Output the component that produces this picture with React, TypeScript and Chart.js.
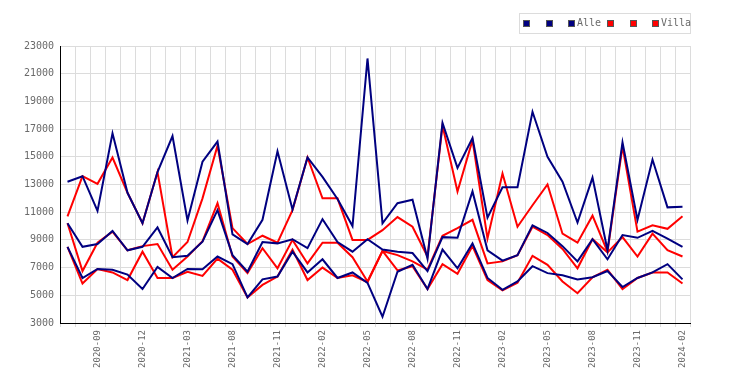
import React, { useEffect, useRef } from 'react';
import { Chart, registerables } from 'chart.js';

Chart.register(...registerables);

const months: string[] = [
  '2020-07', '2020-08', '2020-09', '2020-10', '2020-11', '2020-12',
  '2021-01', '2021-02', '2021-03', '2021-04', '2021-05', '2021-08',
  '2021-09', '2021-10', '2021-11', '2021-12', '2022-01', '2022-02',
  '2022-03', '2022-04', '2022-05', '2022-06', '2022-07', '2022-08',
  '2022-09', '2022-10', '2022-11', '2022-12', '2023-01', '2023-02',
  '2023-03', '2023-04', '2023-05', '2023-06', '2023-07', '2023-08',
  '2023-09', '2023-10', '2023-11', '2023-12', '2024-01', '2024-02',
];

const alleLow: number[] = [
  8500, 6250, 6900, 6850, 6500, 5450, 7050, 6250, 6900, 6880, 7800, 7250,
  4850, 6150, 6350, 8150, 6650, 7600, 6250, 6650, 5900, 3450, 6700, 7200,
  5450, 8300, 6950, 8750, 6250, 5400, 6000, 7100, 6600, 6450, 6150, 6300,
  6750, 5600, 6250, 6650, 7250, 6150,
];
const alleMid: number[] = [
  10200, 8500, 8700, 9650, 8250, 8500, 9900, 7750, 7850, 8870, 11150, 7900,
  6700, 8850, 8750, 9050, 8400, 10500, 8850, 8150, 9050, 8300, 8150, 8050,
  6750, 9200, 9150, 12500, 8250, 7500, 7900, 10050, 9500, 8550, 7450, 9050,
  7600, 9350, 9150, 9650, 9100, 8500,
];
const alleHigh: number[] = [
  13200, 13600, 11100, 16700, 12400, 10200, 13900, 16500, 10400, 14650, 16100, 9400,
  8700, 10450, 15400, 11200, 14950, 13550, 11950, 10000, 22100, 10200, 11650, 11900,
  7650, 17450, 14200, 16350, 10600, 12800, 12800, 18250, 15000, 13200, 10250, 13500,
  8250, 16050, 10450, 14800, 11350, 11400,
];
const villaLow: number[] = [
  8500, 5850, 6900, 6650, 6100, 8150, 6250, 6250, 6700, 6400, 7650, 6850,
  4850, 5750, 6350, 8300, 6100, 7000, 6250, 6450, 5950, 8200, 6800, 7100,
  5450, 7250, 6550, 8550, 6100, 5350, 5900, 7850, 7200, 6000, 5150, 6300,
  6850, 5450, 6250, 6650, 6650, 5850,
];
const villaMid: number[] = [
  10200, 6750, 8800, 9600, 8250, 8550, 8700, 6850, 7800, 8900, 11650, 7800,
  6600, 8400, 6950, 9000, 7300, 8800, 8800, 7750, 6000, 8200, 7900, 7450,
  6850, 9300, 9850, 10450, 7300, 7450, 7900, 9950, 9350, 8350, 6950, 9050,
  8100, 9200, 7800, 9450, 8250, 7800,
];
const villaHigh: number[] = [
  10700, 13600, 13050, 14950, 12400, 10200, 13900, 7750, 8850, 12000, 15800, 9850,
  8700, 9300, 8800, 11150, 14950, 12000, 12000, 9000, 9000, 9700, 10650, 9950,
  7800, 17250, 12500, 16200, 9100, 13800, 9950, 11500, 13000, 9450, 8800, 10750,
  8150, 15750, 9600, 10050, 9800, 10700,
];

const yMin = 3000;
const yMax = 23000;
const yStep = 2000;

const NAVY = '#000080';
const RED = '#ff0000';
const FONT = "'DejaVu Sans Mono', 'Liberation Mono', monospace";
const TEXT = '#6a6a6a';

const series = [
  { label: '', data: alleLow, color: NAVY },
  { label: '', data: alleMid, color: NAVY },
  { label: 'Alle', data: alleHigh, color: NAVY },
  { label: '', data: villaLow, color: RED },
  { label: '', data: villaMid, color: RED },
  { label: 'Villa', data: villaHigh, color: RED },
];

const legendX = [523, 546, 568, 607, 630, 652];

export default function App() {
  const ref = useRef<HTMLCanvasElement>(null);

  useEffect(() => {
    const chart = new Chart(ref.current!, {
      type: 'line',
      data: {
        labels: months,
        datasets: series.map((s) => ({
          label: s.label,
          data: s.data,
          borderColor: s.color,
          backgroundColor: s.color,
          borderWidth: 2,
          pointRadius: 0,
          tension: 0,
          fill: false,
        })),
      },
      options: {
        responsive: false,
        animation: false,
        layout: { padding: { top: 46, right: 60, left: 0, bottom: 0 } },
        plugins: { legend: { display: false }, tooltip: { enabled: false } },
        scales: {
          x: {
            type: 'category',
            offset: true,
            grid: { offset: true, color: '#dcdcdc', lineWidth: 1, tickLength: 4, drawTicks: true },
            border: { color: '#000', width: 1 },
            ticks: {
              autoSkip: false,
              minRotation: 90,
              maxRotation: 90,
              padding: 3,
              color: TEXT,
              font: { family: FONT, size: 9 },
              callback: (_v: any, i: number) => (i % 3 === 2 ? months[i] : ''),
            },
            afterFit: (s: any) => { s.height = 62; },
          },
          y: {
            min: yMin,
            max: yMax,
            grid: { color: '#dcdcdc', lineWidth: 1, drawTicks: false },
            border: { color: '#000', width: 1 },
            ticks: {
              stepSize: yStep,
              padding: 6,
              color: TEXT,
              font: { family: FONT, size: 10 },
              callback: (v: any) => String(v),
            },
            afterFit: (s: any) => { s.width = 60; },
          },
        },
      },
    });
    return () => chart.destroy();
  }, []);

  return (
    <div style={{ position: 'absolute', left: 0, top: 0, width: 750, height: 385, background: '#fff' }}>
      <canvas ref={ref} width={750} height={385} style={{ display: 'block' }} />
      <div
        style={{
          position: 'absolute', left: 519, top: 13, width: 170, height: 19,
          border: '1px solid #dcdcdc', boxSizing: 'content-box',
        }}
      />
      {series.map((s, i) => (
        <React.Fragment key={i}>
          <div
            style={{
              position: 'absolute', left: legendX[i], top: 20, width: 5, height: 5,
              background: s.color, border: '1px solid #555',
            }}
          />
          {s.label ? (
            <div
              style={{
                position: 'absolute', left: legendX[i] + 9, top: 16, height: 14, lineHeight: '14px',
                fontFamily: FONT, fontSize: 10, color: TEXT, whiteSpace: 'nowrap',
              }}
            >
              {s.label}
            </div>
          ) : null}
        </React.Fragment>
      ))}
    </div>
  );
}
